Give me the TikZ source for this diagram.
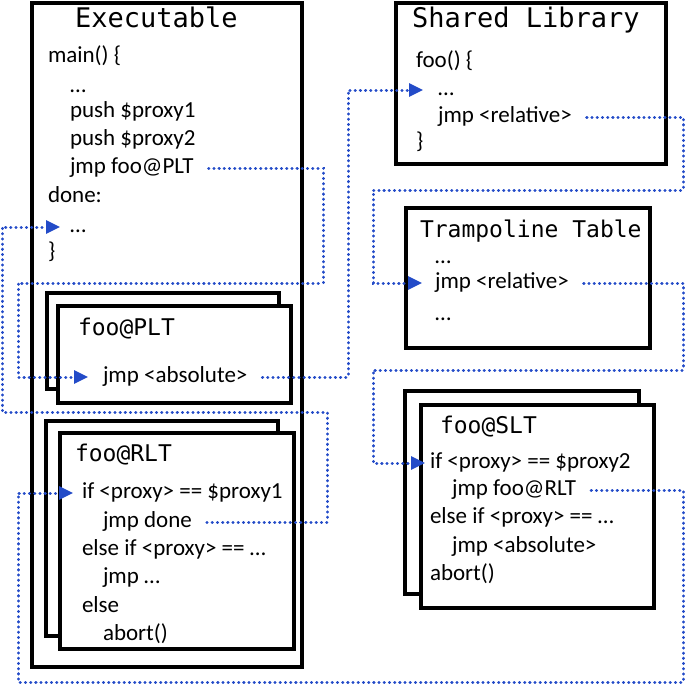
\documentclass[tikz,border=0pt]{standalone}
\usepackage{fontspec}
\setmainfont{Carlito}
\newfontfamily\monofont{DejaVu Sans Mono}
\usepackage{xcolor}
\usepackage{tikz}
\usetikzlibrary{arrows.meta, positioning}
\definecolor{linkblue}{RGB}{35,75,200}
\tikzset{
  frame/.style={draw=black, line width=3.2pt, fill=white},
  code/.style={font=\fontsize{23}{28}\selectfont, anchor=west, text height=16pt, text depth=5pt},
  bigtitle/.style={font=\monofont\fontsize{27}{30}\selectfont, anchor=base west},
  subtitle/.style={font=\monofont\fontsize{23}{28}\selectfont, anchor=base west},
  link/.style={draw=linkblue, line width=3pt, line cap=round, dash pattern=on 0.3pt off 4.9pt,
    -{Triangle[length=14pt,width=13pt]}}
}

\begin{document}
\begin{tikzpicture}[x=1pt,y=-1pt,inner sep=0pt,outer sep=0pt]
\useasboundingbox (0,0) rectangle (685,685);
\draw[frame] (32,3) rectangle (302,667);
\draw[frame] (47,293) rectangle (279,389);
\draw[frame] (58,306) rectangle (291,403);
\draw[frame] (46,421) rectangle (278,636);
\draw[frame] (60,433) rectangle (294,649);
\draw[frame] (396,3) rectangle (666,164);
\draw[frame] (406,208) rectangle (650,348);
\draw[frame] (405,391) rectangle (639,594);
\draw[frame] (421,405) rectangle (654,608);

\node[bigtitle] (extitle) at (75,28) {Executable};
\node[code] (exmain) at (48,57) {main() \{};
\node[code] (exdotsa) at (70,87) {…};
\node[code] (expusha) at (70,112) {push \$proxy1};
\node[code] (expushb) at (70,140) {push \$proxy2};
\node[code] (exjmp) at (70,168) {jmp foo@PLT};
\node[code] (exdone) at (48,197) {done:};
\node[code] (exdotsb) at (70,227) {…};
\node[code] (exend) at (48,253) {\}};

\node[subtitle] (plttitle) at (78,335) {foo@PLT};
\node[code] (pltjmp) at (103,377) {jmp <absolute>};

\node[subtitle] (rlttitle) at (75,461) {foo@RLT};
\node[code] (rltif) at (82,493) {if <proxy> == \$proxy1};
\node[code] (rltjmp) at (103,522) {jmp done};
\node[code] (rltelif) at (82,550) {else if <proxy> == …};
\node[code] (rltjmpb) at (103,578) {jmp …};
\node[code] (rltelse) at (82,607) {else};
\node[code] (rltabort) at (103,635) {abort()};

\node[bigtitle] (shtitle) at (412,28) {Shared Library};
\node[code] (shfoo) at (416,62) {foo() \{};
\node[code] (shdots) at (438,90) {…};
\node[code] (shjmp) at (438,117) {jmp <relative>};
\node[code] (shend) at (416,143) {\}};

\node[subtitle] (trtitle) at (420,237) {Trampoline Table};
\node[code] (trdotsa) at (435,258) {…};
\node[code] (trjmp) at (435,283) {jmp <relative>};
\node[code] (trdotsb) at (435,315) {…};

\node[subtitle] (slttitle) at (440,433) {foo@SLT};
\node[code] (sltif) at (430,463) {if <proxy> == \$proxy2};
\node[code] (sltjmp) at (452,490) {jmp foo@RLT};
\node[code] (sltelif) at (430,518) {else if <proxy> == …};
\node[code] (sltjmpb) at (452,547) {jmp <absolute>};
\node[code] (sltabort) at (430,575) {abort()};

\draw[link] ([xshift=15pt]exjmp.east) -| (323,283) -- (18,283) |- ([xshift=-15pt]pltjmp.west);
\draw[link] ([xshift=15pt]pltjmp.east) -| (348,250) |- ([xshift=-15pt]shdots.west);
\draw[link] ([xshift=15pt]shjmp.east) -| (683,190) -- (373,190) |- ([xshift=-13pt]trjmp.west);
\draw[link] ([xshift=15pt]trjmp.east) -| (683,370) -- (373,370) |- ([xshift=-5pt]sltif.west);
\draw[link] ([xshift=15pt]sltjmp.east) -| (683,682) -- (18,682) |- ([xshift=-9pt]rltif.west);
\draw[link] ([xshift=15pt]rltjmp.east) -| (327,412) -- (2,412) |- ([xshift=-10pt]exdotsb.west);
\end{tikzpicture}
\end{document}
